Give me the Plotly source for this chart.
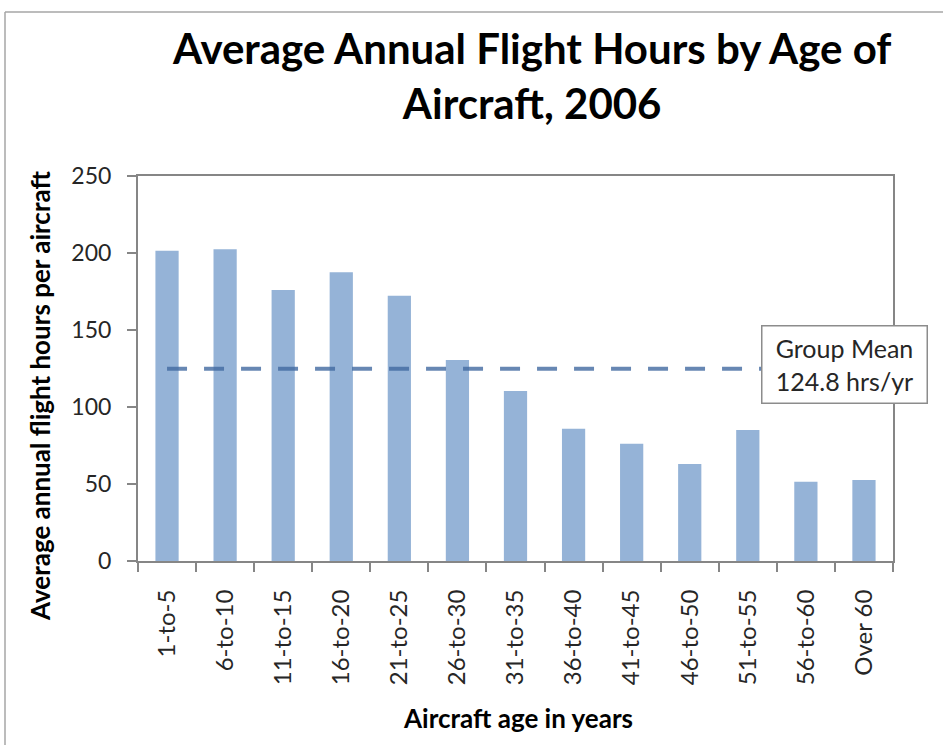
import plotly.graph_objects as go

categories = ["1-to-5", "6-to-10", "11-to-15", "16-to-20", "21-to-25", "26-to-30",
              "31-to-35", "36-to-40", "41-to-45", "46-to-50", "51-to-55", "56-to-60", "Over 60"]
flight_hours = [201.5, 202.4, 176.0, 187.5, 172.3, 130.5, 110.4, 85.9, 76.2, 63.0, 85.0, 51.5, 52.6]
group_mean = 124.8
y_ticks = [0, 50, 100, 150, 200, 250]

title_text = "Average Annual Flight Hours by Age of<br>Aircraft, 2006"
y_title = "Average annual flight hours per aircraft"
x_title = "Aircraft age in years"
mean_label = "Group Mean<br>124.8 hrs/yr"

FONT = "Lato, 'Open Sans', Arial, sans-serif"
W, H = 943, 745
L, T = 138, 176
R = W - 893
B = H - 561
pw, ph = W - L - R, H - T - B

def px(x):
    return (x - L) / pw

def py(y):
    return (H - B - y) / ph

fig = go.Figure()
fig.add_trace(go.Bar(x=categories, y=flight_hours, marker=dict(color="#95B3D7", line=dict(width=0)),
                     showlegend=False))
fig.add_trace(go.Scatter(x=categories, y=[group_mean] * len(categories), mode="lines",
                         line=dict(color="rgba(65,105,160,0.8)", width=4, dash="20px,17px"),
                         showlegend=False))

axis_col = "#868686"
fig.update_layout(
    width=W, height=H,
    margin=dict(l=L, r=R, t=T, b=B),
    paper_bgcolor="white", plot_bgcolor="white",
    bargap=0.6,
    font=dict(family=FONT, color="#262626"),
    xaxis=dict(type="category", range=[-0.5, len(categories) - 0.5], showline=True, linecolor=axis_col,
               linewidth=2, mirror=True, ticks="outside", tickson="boundaries", ticklen=9,
               tickcolor=axis_col, tickwidth=1.5, tickangle=-90, showgrid=False,
               tickfont=dict(size=24, color="#262626"), ticklabelstandoff=17),
    yaxis=dict(range=[0, 250], tickvals=y_ticks, showline=True, linecolor=axis_col, linewidth=2,
               mirror=True, ticks="outside", ticklen=9, tickcolor=axis_col, tickwidth=1.5,
               showgrid=False, zeroline=False, tickfont=dict(size=23, color="#262626"),
               ticklabelstandoff=11),
    shapes=[
        dict(type="line", xref="paper", yref="paper", x0=px(5), x1=px(960), y0=py(12), y1=py(12),
             line=dict(color="#a6a6a6", width=1.5)),
        dict(type="line", xref="paper", yref="paper", x0=px(5), x1=px(5), y0=py(12), y1=py(760),
             line=dict(color="#a6a6a6", width=1.5)),
    ],
    annotations=[
        dict(text="<b>" + title_text + "</b>", xref="paper", yref="paper", x=px(531), y=py(76),
             xanchor="center", yanchor="middle", showarrow=False,
             font=dict(size=42, color="black", family=FONT)),
        dict(text="<b>" + y_title + "</b>", xref="paper", yref="paper", x=px(40), y=py(396),
             xanchor="center", yanchor="middle", textangle=-90, showarrow=False,
             font=dict(size=26, color="black", family=FONT)),
        dict(text="<b>" + x_title + "</b>", xref="paper", yref="paper", x=px(518), y=py(718),
             xanchor="center", yanchor="middle", showarrow=False,
             font=dict(size=26, color="black", family=FONT)),
        dict(text=mean_label, xref="paper", yref="paper", x=px(844), y=py(364),
             xanchor="center", yanchor="middle", showarrow=False, align="center",
             bgcolor="white", bordercolor="#8c8c8c", borderwidth=1.5, borderpad=3,
             width=158, height=70, font=dict(size=25, color="#262626", family=FONT)),
    ],
)

fig.write_html("out.html", config={"displayModeBar": False},
               post_script="document.body.style.margin='0';document.body.style.overflow='hidden';")
